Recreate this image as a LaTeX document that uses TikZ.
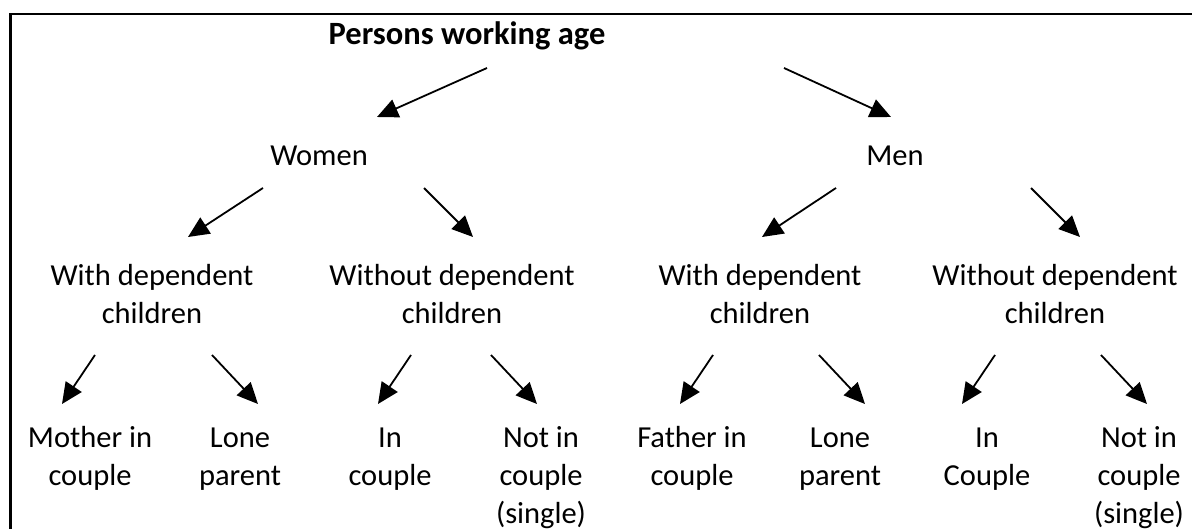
\documentclass[tikz,border=0pt]{standalone}
\usepackage{fontspec}
\setmainfont{Carlito}
\usepackage{tikz}
\usetikzlibrary{arrows.meta}

\begin{document}
\begin{tikzpicture}[x=1pt, y=-1pt,
    label/.style={anchor=base, align=center, inner sep=0pt,
                  font=\fontsize{30.5}{38}\selectfont},
    title/.style={label, font=\fontsize{32.5}{38}\selectfont\bfseries},
    arrow/.style={-{Triangle[length=21pt, width=19pt]}, line width=1.8pt}
  ]
    \useasboundingbox (0,0) rectangle (1192,529);
    \draw[line width=2.2pt] (10.5,529) -- (10.5,14) -- (1192,14);

    \node[title] (root) at (467,45) {Persons working age};

    \node[label] (women) at (319,166) {Women};
    \node[label] (men) at (895,166) {Men};

    \node[label] (wdep) at (152,324) {With dependent\\children};
    \node[label] (wnodep) at (452,324) {Without dependent\\children};
    \node[label] (mdep) at (760,324) {With dependent\\children};
    \node[label] (mnodep) at (1055,324) {Without dependent\\children};

    \node[label] (wmother) at (90,485) {Mother in\\couple};
    \node[label] (wlone) at (240,485) {Lone\\parent};
    \node[label] (wcouple) at (390,485) {In\\couple};
    \node[label] (wsingle) at (541,523) {Not in\\couple\\(single)};
    \node[label] (mfather) at (692,485) {Father in\\couple};
    \node[label] (mlone) at (840,485) {Lone\\parent};
    \node[label] (mcouple) at (987,485) {In\\Couple};
    \node[label] (msingle) at (1139,523) {Not in\\couple\\(single)};

    \coordinate (root-l) at (487,68);
    \coordinate (root-r) at (784,68);
    \coordinate (women-in) at (377,117);
    \coordinate (men-in) at (891,117);

    \coordinate (women-l) at (263,188);
    \coordinate (women-r) at (424,188);
    \coordinate (men-l) at (836,188);
    \coordinate (men-r) at (1031,188);
    \coordinate (wdep-in) at (188,237);
    \coordinate (wnodep-in) at (473,237);
    \coordinate (mdep-in) at (762,237);
    \coordinate (mnodep-in) at (1080,237);

    \coordinate (wdep-l) at (95,355);
    \coordinate (wdep-r) at (212,355);
    \coordinate (wnodep-l) at (411,355);
    \coordinate (wnodep-r) at (491,355);
    \coordinate (mdep-l) at (713,355);
    \coordinate (mdep-r) at (819,355);
    \coordinate (mnodep-l) at (995,355);
    \coordinate (mnodep-r) at (1101,355);
    \coordinate (wmother-in) at (62,404);
    \coordinate (wlone-in) at (258,404);
    \coordinate (wcouple-in) at (378,404);
    \coordinate (wsingle-in) at (537,404);
    \coordinate (mfather-in) at (680,404);
    \coordinate (mlone-in) at (865,404);
    \coordinate (mcouple-in) at (962,404);
    \coordinate (msingle-in) at (1147,404);

    \draw[arrow] (root-l) -- (women-in);
    \draw[arrow] (root-r) -- (men-in);

    \draw[arrow] (women-l) -- (wdep-in);
    \draw[arrow] (women-r) -- (wnodep-in);
    \draw[arrow] (men-l) -- (mdep-in);
    \draw[arrow] (men-r) -- (mnodep-in);

    \draw[arrow] (wdep-l) -- (wmother-in);
    \draw[arrow] (wdep-r) -- (wlone-in);
    \draw[arrow] (wnodep-l) -- (wcouple-in);
    \draw[arrow] (wnodep-r) -- (wsingle-in);
    \draw[arrow] (mdep-l) -- (mfather-in);
    \draw[arrow] (mdep-r) -- (mlone-in);
    \draw[arrow] (mnodep-l) -- (mcouple-in);
    \draw[arrow] (mnodep-r) -- (msingle-in);
  \end{tikzpicture}
\end{document}
